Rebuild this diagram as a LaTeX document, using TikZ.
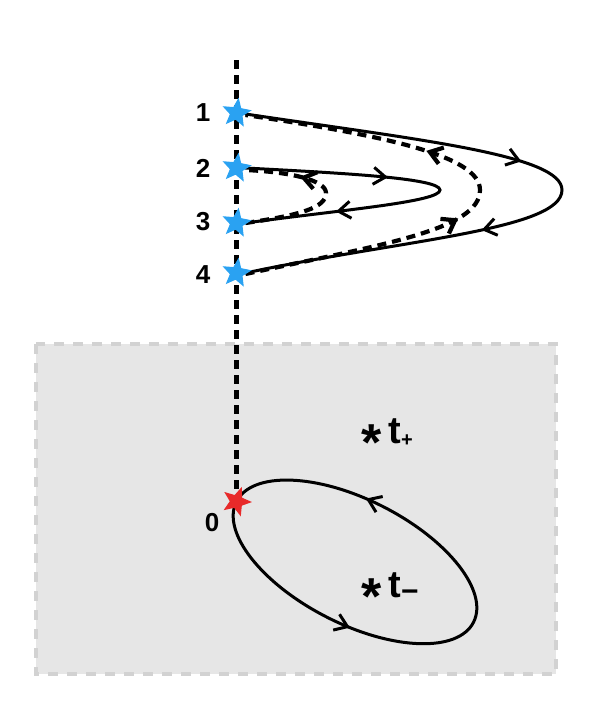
\documentclass[tikz,border=0pt]{standalone}
\usepackage{fontspec}
\setmainfont{Liberation Sans}
\usetikzlibrary{arrows.meta,shapes.geometric,decorations.markings,calc}
\definecolor{starblue}{HTML}{2AA2F2}
\definecolor{starred}{HTML}{E82A2A}
\definecolor{boxfill}{HTML}{E6E6E6}
\definecolor{boxline}{HTML}{D2D2D2}
\tikzset{
  >={Straight Barb[length=12pt,width=17pt]},
  bluestar/.style={star, star points=5, star point ratio=2.3, minimum size=31pt, inner sep=0pt, fill=starblue, draw=none, rotate=-8},
  redstar/.style={star, star points=5, star point ratio=2.3, minimum size=31pt, inner sep=0pt, fill=starred, draw=none, rotate=-20},
  numlbl/.style={font=\bfseries\fontsize{26}{26}\selectfont, inner sep=0pt},
  tlbl/.style={font=\bfseries\fontsize{38}{38}\selectfont, inner sep=0pt, anchor=base west},
  solidcurve/.style={line width=3pt, line cap=round},
  dashcurve/.style={line width=4.2pt, dash pattern=on 9pt off 6pt},
  axisline/.style={line width=4.5pt, dash pattern=on 9pt off 6pt},
  greybox/.style={fill=boxfill, draw=boxline, line width=3.5pt, dash pattern=on 10pt off 9pt}
}
\begin{document}
\begin{tikzpicture}[x=1pt,y=1pt]
\useasboundingbox (0,0) rectangle (592,-716);
% grey region
\draw[greybox] (36,-344) rectangle (556,-674);
% star positions
\coordinate (top) at (236.5,-60);
\coordinate (c1) at (236.5,-113);
\coordinate (c2) at (236.5,-168);
\coordinate (c3) at (236.5,-223);
\coordinate (c4) at (236.5,-273);
\coordinate (c0) at (236.5,-501.5);
% vertical axis
\draw[axisline] (top) -- (c0);
% outer solid loop 1 -> 4
\draw[solidcurve, postaction={decorate}, decoration={markings,
   mark=at position 0.42 with {\arrow[solid]{>}},
   mark=at position 0.64 with {\arrow[solid]{>}}}]
  ($(c1)+(9,-1)$) .. controls (420,-140) and (562,-155) .. (562,-190)
  .. controls (562,-230) and (400,-240) .. ($(c4)+(9,0)$);
% inner solid loop 2 -> 3
\draw[solidcurve, postaction={decorate}, decoration={markings,
   mark=at position 0.36 with {\arrow[solid]{>}},
   mark=at position 0.77 with {\arrow[solid]{>}}}]
  ($(c2)+(9,0)$) .. controls (340,-173) and (440,-178) .. (440,-190)
  .. controls (440,-202) and (340,-210) .. ($(c3)+(9,0)$);
% big dashed loop 4 -> 1
\draw[dashcurve, postaction={decorate}, decoration={markings,
   mark=at position 0.43 with {\arrow[solid]{>}},
   mark=at position 0.64 with {\arrow[solid]{>}}}]
  ($(c4)+(9,-1)$) .. controls (380,-245) and (480,-230) .. (480,-190)
  .. controls (480,-155) and (380,-135) .. ($(c1)+(9,-2)$);
% small dashed loop 3 -> 2
\draw[dashcurve, postaction={decorate}, decoration={markings,
   mark=at position 0.69 with {\arrow[solid]{>}}}]
  ($(c3)+(9,0)$) .. controls (300,-215) and (326,-208) .. (326,-193)
  .. controls (326,-180) and (290,-172) .. ($(c2)+(9,-2)$);
% ellipse
\begin{scope}[shift={(355,-562)}, rotate=-27]
\draw[solidcurve, postaction={decorate}, decoration={markings,
   mark=at position 0.29 with {\arrow[solid]{>}},
   mark=at position 0.78 with {\arrow[solid]{>}}}]
  (c0) arc[start angle=180, end angle=540, x radius=133, y radius=62];
\end{scope}
% stars
\node[bluestar] (s1) at (c1) {};
\node[bluestar] (s2) at (c2) {};
\node[bluestar] (s3) at (c3) {};
\node[bluestar] (s4) at (c4) {};
\node[redstar] (s0) at (c0) {};
% labels
\node[numlbl] (l1) at (203,-113) {1};
\node[numlbl] (l2) at (203,-168) {2};
\node[numlbl] (l3) at (203,-222) {3};
\node[numlbl] (l4) at (203,-275) {4};
\node[numlbl] (l0) at (212,-523) {0};
\node[tlbl] (tp) at (361,-443) {{\fontsize{52}{52}\selectfont\raisebox{-17pt}{*}}\hspace{7pt}t\raisebox{-3pt}{\fontsize{20}{20}\selectfont +}};
\node[tlbl] (tm) at (361,-597) {{\fontsize{52}{52}\selectfont\raisebox{-17pt}{*}}\hspace{7pt}t\raisebox{-4pt}{\fontsize{30}{30}\selectfont −}};
\end{tikzpicture}
\end{document}
